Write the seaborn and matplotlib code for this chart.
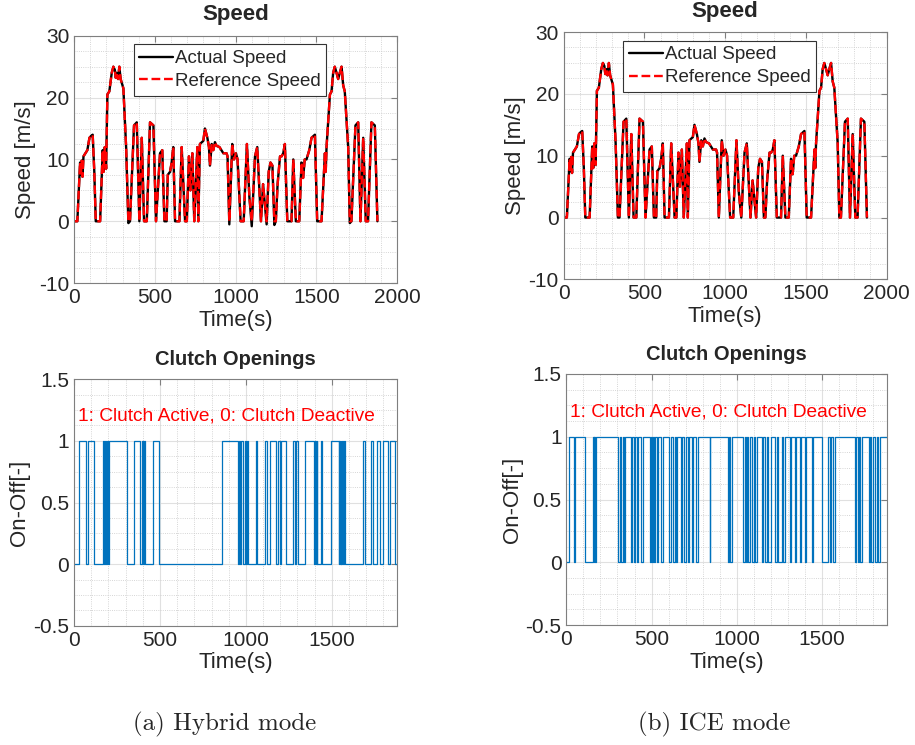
import numpy as np
import seaborn as sns
import matplotlib.pyplot as plt
from matplotlib.ticker import MultipleLocator, FormatStrFormatter

# drive cycle
speed_time = [0, 20, 37, 42, 47, 52, 58, 82, 95, 105, 115, 125, 134, 161, 177, 183, 190, 198,
              206, 218, 233, 243, 252, 258, 264, 272, 280, 288, 305, 322, 336, 346, 371, 388,
              404, 419, 433, 450, 470, 491, 507, 532, 546, 559, 573, 580, 594, 604, 614, 625,
              652, 666, 687, 698, 711, 720, 732, 744, 763, 769, 779, 800, 810, 825, 835, 841,
              852, 862, 872, 882, 900, 924, 944, 950, 961, 979, 990, 1002, 1012, 1031, 1050,
              1070, 1085, 1100, 1120, 1134, 1157, 1170, 1192, 1205, 1216, 1228,
              1240, 1249, 1260, 1275, 1285, 1295, 1305, 1320, 1346, 1357, 1373, 1394, 1408,
              1418, 1428, 1439, 1456, 1470, 1491, 1505, 1532, 1553, 1558, 1563, 1584, 1594,
              1604, 1614, 1625, 1635, 1645, 1656, 1666, 1676, 1697, 1707, 1717, 1742, 1759,
              1773, 1790, 1806, 1820, 1841, 1862, 1878]
speed_ref = [0, 0, 9.5, 7.5, 9.8, 7.2, 10.5, 11.5, 13.5, 13.8, 14, 8, 0, 0, 11.5, 8, 12, 8.5,
             20.5, 21, 24, 25, 24.5, 23.2, 24, 23, 25, 23, 21.5, 12, 0, 0, 15.5, 16,
             0, 13.5, 0, 0, 16, 15.5, 0, 11, 11.5, 0, 0, 7.5, 8, 9.5, 12, 0,
             0, 12, 0, 0, 10.5, 5, 11, 0, 12, 0, 12.5, 13, 15, 13.5, 12, 9,
             12.5, 11.5, 12.8, 12.2, 12, 11, 11, 10.5, 0, 12.5, 10, 11, 10, 0, 0,
             12.5, 4, 0, 10.5, 12, 0, 6, 0, 8, 9.5, 9,
             0, 0, 6, 10.5, 10.5, 11, 12.5, 0, 0, 10, 0, 0, 9.5,
             7, 10, 10, 11.5, 13.5, 14, 0, 0, 11, 8, 12, 20.5, 21,
             24, 25, 24, 23, 24, 25, 22, 21, 12, 0, 0, 15.5, 16,
             0, 13.5, 0, 0, 16, 15.5, 0]
# where the actual speed undershoots the reference
actual_undershoot = {336: -0.3, 961: -0.5, 1100: -0.8, 1192: -0.5, 1240: -0.6, 1707: -0.3}

# clutch switching instants (state toggles, starting from 0)
hybrid_toggles = [27, 72, 81, 116, 167, 174, 180, 186, 192, 198, 205, 308, 350, 385, 393, 400,
                  407, 414, 459, 496, 862, 951, 958, 965, 970, 985, 992, 1000, 1005, 1013, 1057,
                  1067, 1110, 1124, 1139, 1177, 1187, 1196, 1203, 1236, 1274, 1284, 1290, 1303,
                  1342, 1396, 1401, 1406, 1411, 1416, 1435, 1443, 1497, 1540, 1544, 1548, 1552,
                  1555, 1560, 1565, 1570, 1578, 1681, 1695, 1729, 1739, 1764, 1778, 1797, 1826,
                  1836, 1865]
ice_toggles = [13, 47, 50, 108, 155, 160, 165, 170, 176, 302, 312, 318, 330, 338, 345, 380, 388,
               396, 404, 412, 420, 436, 449, 488, 494, 500, 507, 515, 522, 531, 540, 556, 570,
               605, 612, 628, 635, 645, 652, 670, 678, 690, 700, 712, 722, 735, 745, 758, 772,
               841, 846, 946, 955, 962, 970, 1039, 1046, 1053, 1060, 1068, 1078, 1088, 1100,
               1108, 1117, 1146, 1155, 1165, 1175, 1184, 1204, 1224, 1234, 1244, 1264, 1274,
               1284, 1313, 1320, 1342, 1349, 1371, 1378, 1400, 1405, 1440, 1445, 1499, 1535,
               1545, 1555, 1565, 1578, 1695, 1700, 1710, 1716, 1722, 1734, 1774, 1780, 1790,
               1800, 1812, 1825, 1832, 1842]
clutch_end = 1880

captions = ['(a) Hybrid mode', '(b) ICE mode']

sns.set_style('white')
plt.rcParams['font.family'] = ['Liberation Sans', 'DejaVu Sans']
plt.rcParams['axes.unicode_minus'] = False

GRAY = '#262626'


def style_axes(ax):
    """MATLAB-like box, inward ticks and major/minor grid"""
    for s in ax.spines.values():
        s.set_color('#7f7f7f')
        s.set_linewidth(0.8)
    ax.tick_params(which='both', direction='in', top=True, right=True,
                   colors='#7f7f7f', labelcolor=GRAY, labelsize=15)
    ax.tick_params(which='major', length=4)
    ax.tick_params(which='minor', length=0)
    ax.grid(which='major', color='#e0e0e0', lw=0.8)
    ax.grid(which='minor', color='#c8c8c8', lw=0.6, ls=':')
    ax.set_axisbelow(True)
    ax.yaxis.set_major_formatter(FormatStrFormatter('%g'))


def speed_panel(ax, actual):
    sns.lineplot(x=speed_time, y=actual, ax=ax, color='black', lw=1.7,
                 estimator=None, sort=False, label='Actual Speed')
    sns.lineplot(x=speed_time, y=speed_ref, ax=ax, color='red', lw=1.7, linestyle='--',
                 estimator=None, sort=False, label='Reference Speed')
    ax.set_xlim(0, 2000)
    ax.set_ylim(-10, 30)
    ax.xaxis.set_major_locator(MultipleLocator(500))
    ax.xaxis.set_minor_locator(MultipleLocator(100))
    ax.yaxis.set_major_locator(MultipleLocator(10))
    ax.yaxis.set_minor_locator(MultipleLocator(2.5))
    ax.set_title('Speed', fontsize=16, fontweight='bold', pad=11)
    ax.set_xlabel('Time(s)', fontsize=16, color=GRAY, labelpad=2)
    ax.set_ylabel('Speed [m/s]', fontsize=16, color=GRAY, labelpad=2)
    style_axes(ax)
    leg = ax.legend(loc='upper left', bbox_to_anchor=(0.185, 0.965), fontsize=13.5,
                    frameon=True, fancybox=False, framealpha=1, handlelength=1.8,
                    handletextpad=0.1, borderpad=0.3, labelspacing=0.3, borderaxespad=0)
    leg.get_frame().set_edgecolor('#333333')
    leg.get_frame().set_linewidth(0.8)


def clutch_panel(ax, toggles):
    t = [0] + toggles + [clutch_end]
    state = [(i % 2) for i in range(len(toggles) + 1)]
    state = state + [state[-1]]
    sns.lineplot(x=t, y=state, ax=ax, color='#0072BD', lw=0.9, drawstyle='steps-post',
                 estimator=None, sort=False)
    ax.set_xlim(0, clutch_end)
    ax.set_ylim(-0.5, 1.5)
    ax.xaxis.set_major_locator(MultipleLocator(500))
    ax.xaxis.set_minor_locator(MultipleLocator(100))
    ax.yaxis.set_major_locator(MultipleLocator(0.5))
    ax.yaxis.set_minor_locator(MultipleLocator(0.125))
    ax.set_title('Clutch Openings', fontsize=14.5, fontweight='bold', pad=10)
    ax.set_xlabel('Time(s)', fontsize=16, color=GRAY, labelpad=2)
    ax.set_ylabel('On-Off[-]', fontsize=16, color=GRAY, labelpad=2)
    ax.text(20, 1.2, '1: Clutch Active, 0: Clutch Deactive', color='red', fontsize=13.8,
            va='center', ha='left')
    style_axes(ax)


fig = plt.figure(figsize=(9.15, 7.45), dpi=100)
ax_tl = fig.add_axes([0.081, 0.620, 0.353, 0.332])
ax_tr = fig.add_axes([0.616, 0.625, 0.353, 0.332])
ax_bl = fig.add_axes([0.081, 0.160, 0.353, 0.331])
ax_br = fig.add_axes([0.619, 0.161, 0.350, 0.337])

hybrid_actual = [actual_undershoot.get(t, v) for t, v in zip(speed_time, speed_ref)]
speed_panel(ax_tl, hybrid_actual)
speed_panel(ax_tr, speed_ref)
clutch_panel(ax_bl, hybrid_toggles)
clutch_panel(ax_br, ice_toggles)

fig.text(0.246, 0.027, captions[0], family='cmr10', fontsize=18, ha='center', va='center')
fig.text(0.781, 0.027, captions[1], family='cmr10', fontsize=18, ha='center', va='center')

plt.savefig('out.png', dpi=100)
